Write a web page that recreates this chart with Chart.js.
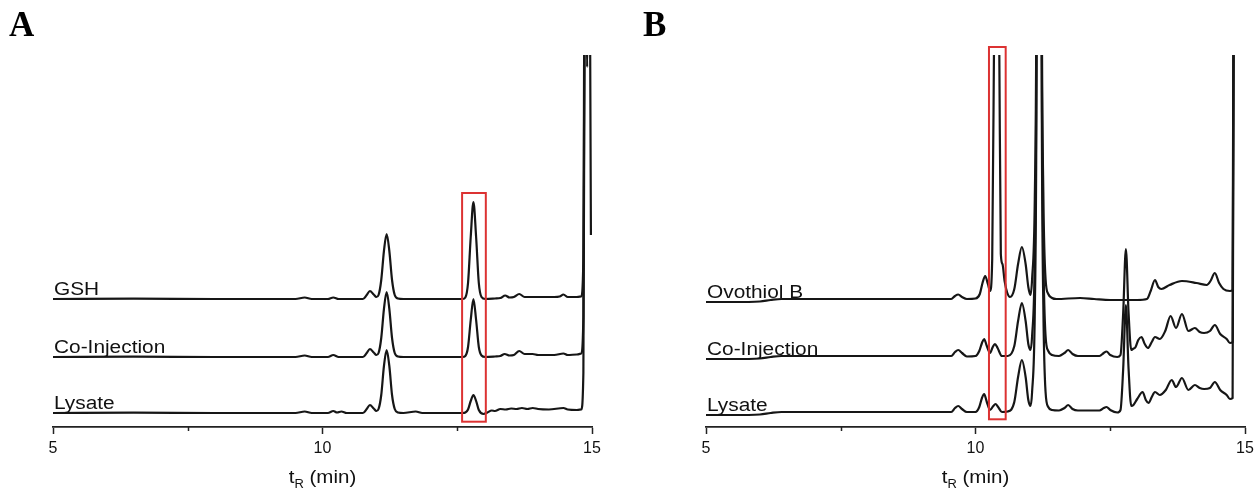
<!DOCTYPE html>
<html>
<head>
<meta charset="utf-8">
<script src="https://cdn.jsdelivr.net/npm/chart.js@4.4.1/dist/chart.umd.min.js"></script>
<style>
  html, body { margin: 0; padding: 0; background: #fff; }
  #wrap { position: relative; width: 1255px; height: 490px; overflow: hidden; }
  .panel { position: absolute; top: 0; }
  #panelA { left: 0; }
  #panelB { left: 627px; }
</style>
</head>
<body>
<div id="wrap">
  <div class="panel" id="panelA"><canvas id="chartA" width="627" height="490"></canvas></div>
  <div class="panel" id="panelB"><canvas id="chartB" width="640" height="490"></canvas></div>
</div>
<script>
// retention time axis (min)
const majorTicks = [5, 10, 15];
const minorTicks = [7.5, 12.5];

// panel A traces, [tR, signal above own baseline]
const namesA = ['GSH', 'Co-Injection', 'Lysate'];
const offsetsA = [128, 70, 14];

const gshA = [
  [5.0, 0], [6.5, 0.3], [8.0, 0], [9.5, 0], [9.67, 1.5], [9.8, 0], [10.1, 0], [10.2, 1.5], [10.3, 0],
  [10.75, 0], [10.82, 4], [10.88, 8], [10.95, 4.5], [11.0, 2], [11.04, 4], [11.09, 19], [11.14, 48],
  [11.19, 65], [11.24, 48], [11.29, 19], [11.34, 4], [11.4, 0.5], [11.5, 0], [12.0, 0], [12.6, 0],
  [12.65, 1.5], [12.7, 16], [12.75, 62], [12.8, 97], [12.85, 62], [12.9, 16], [12.95, 2], [13.02, 0],
  [13.2, 0.5], [13.3, 1], [13.39, 3.5], [13.47, 1.5], [13.55, 2], [13.65, 5], [13.75, 2], [14.0, 2],
  [14.3, 2], [14.4, 2.5], [14.47, 4.5], [14.55, 2], [14.72, 2], [14.8, 2.6], [14.84, 40], [14.87, 500],
  [14.91, 232], [14.94, 500], [14.98, 64]
];
const coInjA = [
  [5.0, 0], [6.5, 0.3], [8.0, 0], [9.5, 0], [9.67, 1.5], [9.8, 0], [10.1, 0], [10.2, 2], [10.3, 0],
  [10.75, 0], [10.82, 4], [10.88, 8], [10.95, 4.5], [11.0, 2], [11.04, 4], [11.09, 19], [11.14, 48],
  [11.19, 65], [11.24, 48], [11.29, 19], [11.34, 4], [11.4, 0.5], [11.5, 0], [12.6, 0],
  [12.65, 1], [12.7, 10], [12.75, 37], [12.8, 58], [12.85, 37], [12.9, 10], [12.95, 1.5], [13.02, 0],
  [13.2, 0.5], [13.3, 1], [13.38, 3], [13.47, 1.5], [13.55, 2], [13.65, 6], [13.75, 3], [13.9, 3],
  [14.0, 2], [14.3, 2], [14.47, 3.5], [14.55, 2], [14.72, 2.5], [14.8, 3.5], [14.84, 40], [14.87, 500],
  [14.94, 600], [14.98, 600]
];
const lysateA = [
  [5.0, 0], [6.5, 0.3], [8.0, 0], [9.5, 0], [9.67, 1.5], [9.8, 0], [10.1, 0], [10.2, 2], [10.27, 0.5],
  [10.35, 1.5], [10.45, 0], [10.75, 0], [10.82, 4], [10.88, 8], [10.95, 4.5], [11.0, 2], [11.04, 4],
  [11.09, 18], [11.14, 47], [11.19, 63], [11.24, 47], [11.29, 18], [11.34, 4], [11.4, 0.5], [11.5, 0],
  [11.73, 1.5], [11.85, 0], [12.6, 0], [12.65, 0.5], [12.7, 3.5], [12.75, 12], [12.8, 18], [12.85, 12],
  [12.9, 3], [12.99, -1], [13.06, 0.5], [13.14, 2.5], [13.2, 2], [13.3, 4], [13.4, 3.5], [13.5, 4.5],
  [13.6, 4], [13.7, 5], [13.8, 4], [13.9, 5], [14.0, 4], [14.2, 3.5], [14.47, 5], [14.55, 3.5],
  [14.72, 3], [14.8, 3.5], [14.84, 40], [14.87, 500], [14.94, 600], [14.98, 600]
];

// panel B traces
const namesB = ['Ovothiol B', 'Co-Injection', 'Lysate'];
const offsetsB = [128, 71, 15];

const ovothiolB = [
  [5.0, -3], [5.5, -3], [6.0, -2.5], [6.2, -1], [6.4, 0], [7.5, 0], [9.0, 0], [9.55, 0], [9.62, 3],
  [9.68, 4.5], [9.75, 2], [9.84, 0], [10.0, 0.5], [10.08, 5], [10.13, 16], [10.18, 23], [10.23, 15],
  [10.27, 8], [10.31, 40], [10.35, 300], [10.39, 500], [10.44, 260], [10.47, 45], [10.5, 35],
  [10.54, 18], [10.59, 6], [10.64, 2], [10.72, 10], [10.79, 35], [10.86, 52], [10.93, 35], [10.98, 12],
  [11.02, 4], [11.05, 20], [11.1, 100], [11.13, 300], [11.16, 1000], [11.2, 1000], [11.23, 300],
  [11.26, 100], [11.3, 20], [11.35, 5], [11.42, 1], [11.5, 0], [11.94, 1], [12.2, 0], [12.5, -1],
  [13.0, -1], [13.18, 0], [13.25, 8], [13.33, 19], [13.39, 12], [13.45, 10], [13.6, 14], [13.83, 18],
  [14.1, 16], [14.29, 14], [14.36, 18], [14.44, 26], [14.52, 16], [14.6, 10], [14.72, 8], [14.77, 9],
  [14.8, 600]
];
const coInjB = [
  [5.0, -3], [5.5, -3], [6.0, -2.5], [6.2, -1], [6.4, 0], [9.55, 0], [9.62, 4], [9.68, 6], [9.75, 3],
  [9.84, -0.5], [10.0, 0], [10.07, 5], [10.12, 13], [10.16, 17], [10.21, 10], [10.27, 3], [10.32, 9],
  [10.36, 12], [10.41, 8], [10.49, 0], [10.6, 0], [10.72, 10], [10.79, 35], [10.86, 53], [10.93, 35],
  [10.98, 12], [11.02, 6], [11.05, 20], [11.1, 100], [11.13, 300], [11.16, 1000], [11.2, 1000],
  [11.23, 300], [11.26, 100], [11.3, 20], [11.35, 5], [11.42, 1], [11.55, 0], [11.65, 3], [11.72, 6],
  [11.8, 2], [11.9, 0], [12.3, 0], [12.38, 3], [12.43, 4.5], [12.5, 1], [12.63, -1], [12.69, 1],
  [12.74, 43], [12.79, 107], [12.84, 43], [12.89, 6], [12.92, 7], [12.97, 9], [13.02, 16], [13.08, 19],
  [13.14, 12], [13.2, 8], [13.27, 14], [13.33, 19], [13.42, 17], [13.52, 25], [13.62, 40], [13.72, 28],
  [13.83, 42], [13.95, 25], [14.07, 28], [14.16, 24], [14.24, 23], [14.35, 25], [14.44, 31],
  [14.54, 22], [14.66, 17], [14.72, 13], [14.77, 14], [14.8, 600]
];
const lysateB = [
  [5.0, -3], [5.5, -3], [6.0, -2.5], [6.2, -1], [6.4, 0], [9.55, 0], [9.62, 4], [9.68, 6], [9.75, 3],
  [9.84, 0], [10.0, 0], [10.07, 5], [10.12, 14], [10.16, 18], [10.21, 10], [10.27, 2], [10.33, 6],
  [10.37, 8], [10.42, 5], [10.49, 0], [10.6, 0.5], [10.72, 10], [10.79, 35], [10.86, 52], [10.93, 35],
  [10.98, 12], [11.02, 6], [11.05, 20], [11.1, 100], [11.13, 300], [11.16, 1000], [11.2, 1000],
  [11.23, 300], [11.26, 100], [11.3, 20], [11.35, 5], [11.42, 2], [11.55, 1.5], [11.65, 4], [11.72, 7],
  [11.8, 3], [11.9, 1.5], [12.3, 1.5], [12.38, 4], [12.43, 5], [12.5, 2], [12.63, -0.5], [12.69, 2],
  [12.74, 43], [12.79, 107], [12.84, 43], [12.89, 6], [12.93, 7], [13.0, 13], [13.1, 20], [13.16, 12],
  [13.21, 9], [13.27, 15], [13.33, 20], [13.42, 17], [13.53, 22], [13.64, 32], [13.72, 25],
  [13.83, 34], [13.95, 22], [14.07, 27], [14.16, 24], [14.24, 23], [14.35, 24], [14.44, 30],
  [14.54, 22], [14.66, 17], [14.72, 13], [14.77, 14], [14.8, 600]
];

// highlighted peak windows [tR from, tR to], [signal from, signal to]
const boxA = { x: [12.59, 13.03], y: [5.3, 234] };
const boxB = { x: [10.25, 10.56], y: [7.7, 380] };

const SANS = '"Liberation Sans", Arial, sans-serif';

// the figure's Arial text is slightly stretched sideways
function stretchText(ctx, text, x, y, sx) {
  ctx.save();
  ctx.translate(x, y);
  ctx.scale(sx, 1);
  ctx.fillText(text, 0, 0);
  ctx.restore();
}

const decor = {
  id: 'decor',
  afterDatasetsDraw(chart, args, opts) {
    const { ctx, chartArea, scales: { x, y } } = chart;
    ctx.save();

    // minor ticks
    ctx.strokeStyle = '#222';
    ctx.lineWidth = 1.5;
    minorTicks.forEach(v => {
      const px = Math.round(x.getPixelForValue(v)) + 0.5;
      ctx.beginPath();
      ctx.moveTo(px, chartArea.bottom);
      ctx.lineTo(px, chartArea.bottom + 4);
      ctx.stroke();
    });

    // red box around the peak of interest
    const bx0 = x.getPixelForValue(opts.box.x[0]);
    const bx1 = x.getPixelForValue(opts.box.x[1]);
    const by0 = y.getPixelForValue(opts.box.y[0]);
    const by1 = y.getPixelForValue(opts.box.y[1]);
    ctx.strokeStyle = '#dc3232';
    ctx.lineWidth = 2;
    ctx.strokeRect(bx0, by1, bx1 - bx0, by0 - by1);

    // trace labels
    ctx.fillStyle = '#111';
    ctx.textBaseline = 'alphabetic';
    ctx.textAlign = 'left';
    ctx.font = '18.8px ' + SANS;
    opts.names.forEach((name, i) => {
      const py = y.getPixelForValue(opts.offsets[i] + opts.series[i][0][1]) - 4.5;
      stretchText(ctx, name, x.getPixelForValue(5) + 1, py, 1.11);
    });

    // axis title t_R (min)
    const cx = (chartArea.left + chartArea.right) / 2;
    const base = 483;
    ctx.font = '19px ' + SANS;
    const wt = ctx.measureText('t').width;
    const wm = ctx.measureText(' (min)').width;
    ctx.font = '12px ' + SANS;
    const wr = ctx.measureText('R').width;
    const sx = 1.08;
    let px = cx - (wt + wr + wm) * sx / 2;
    ctx.font = '19px ' + SANS;
    stretchText(ctx, 't', px, base, sx);
    px += wt * sx;
    ctx.font = '12px ' + SANS;
    stretchText(ctx, 'R', px, base + 5, sx);
    px += wr * sx;
    ctx.font = '19px ' + SANS;
    stretchText(ctx, ' (min)', px, base, sx);

    // panel letter
    ctx.font = 'bold 35px "Liberation Serif", "Times New Roman", serif';
    ctx.fillStyle = '#000';
    ctx.fillText(opts.letter, opts.letterX, 36);

    ctx.restore();
  }
};

function makeChart(canvasId, series, offsets, names, box, letter, letterX, padding) {
  return new Chart(document.getElementById(canvasId), {
    type: 'line',
    data: {
      datasets: series.map((s, i) => ({
        label: names[i],
        data: s.map(([t, v]) => ({ x: t, y: v + offsets[i] })),
        borderColor: '#161616',
        borderWidth: 2.2,
        pointRadius: 0,
        cubicInterpolationMode: 'monotone',
        fill: false,
        clip: 0,
      })),
    },
    options: {
      responsive: false,
      animation: false,
      events: [],
      layout: { padding },
      plugins: {
        legend: { display: false },
        tooltip: { enabled: false },
        decor: { series, offsets, names, box, letter, letterX },
      },
      scales: {
        x: {
          type: 'linear',
          min: 5,
          max: 15,
          afterBuildTicks: (scale) => { scale.ticks = majorTicks.map(v => ({ value: v })); },
          afterFit: (scale) => { scale.height = 63; },
          ticks: {
            autoSkip: false,
            maxRotation: 0,
            padding: 5,
            color: '#111',
            font: { family: SANS, size: 16 },
          },
          grid: {
            display: true,
            drawOnChartArea: false,
            tickLength: 7,
            tickWidth: 1.5,
            tickColor: '#222',
          },
          border: { display: true, color: '#222', width: 1.8 },
        },
        y: {
          display: false,
          min: 0,
          max: 372,
        },
      },
    },
    plugins: [decor],
  });
}

makeChart('chartA', [gshA, coInjA, lysateA], offsetsA, namesA, boxA, 'A', 9,
  { left: 53, right: 35, top: 55, bottom: 0 });
makeChart('chartB', [ovothiolB, coInjB, lysateB], offsetsB, namesB, boxB, 'B', 16,
  { left: 79, right: 22, top: 55, bottom: 0 });
</script>
</body>
</html>
